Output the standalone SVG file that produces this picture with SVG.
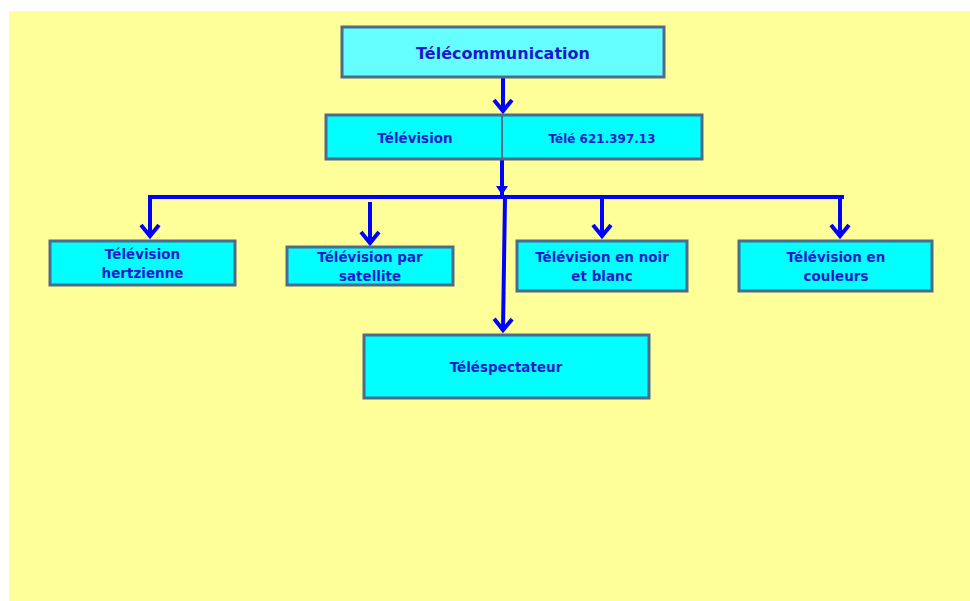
<svg xmlns="http://www.w3.org/2000/svg" width="970" height="601" viewBox="0 0 970 601">
<style>
.box{fill:#00FFFF;stroke:#4E6B8C;stroke-width:3}
.top{fill:#66FFFF}
.t{font-family:"DejaVu Sans",Verdana,sans-serif;font-weight:bold;fill:#1A1ACC;text-anchor:middle;font-size:13.5px}
.c{fill:none;stroke:#0000FF;stroke-width:4}
</style>
<defs>
<marker id="v" markerUnits="userSpaceOnUse" markerWidth="30" markerHeight="30" viewBox="-15 -15 30 30" refX="0" refY="0" orient="auto" overflow="visible">
<path d="M-11,-9 L0,0 L-11,9" fill="none" stroke="#0000FF" stroke-width="4"/>
</marker>
<marker id="tri" markerUnits="userSpaceOnUse" markerWidth="20" markerHeight="20" viewBox="-10 -10 20 20" refX="0" refY="0" orient="auto" overflow="visible">
<path d="M-9,-6 L0,0 L-9,6 Z" fill="#0000FF"/>
</marker>
</defs>
<rect x="9" y="11" width="961" height="590" fill="#FFFF99"/>
<g id="connectors">
<line class="c" x1="503" y1="78" x2="503" y2="111" marker-end="url(#v)"/>
<line class="c" x1="502" y1="160" x2="502" y2="195" marker-end="url(#tri)"/>
<line class="c" x1="148" y1="197" x2="844" y2="197"/>
<line class="c" x1="150" y1="197" x2="150" y2="236" marker-end="url(#v)"/>
<line class="c" x1="370" y1="202" x2="370" y2="243" marker-end="url(#v)"/>
<line class="c" x1="505" y1="197" x2="503" y2="330" marker-end="url(#v)"/>
<line class="c" x1="602" y1="197" x2="602" y2="236" marker-end="url(#v)"/>
<line class="c" x1="840" y1="197" x2="840" y2="236" marker-end="url(#v)"/>
</g>
<g id="telecommunication">
<rect class="box top" x="342" y="27" width="322" height="50"/>
<text class="t" x="503" y="59" style="font-size:16px">Télécommunication</text>
</g>
<g id="television">
<rect class="box" x="326" y="115" width="376" height="44"/>
<line x1="502" y1="115" x2="502" y2="159" stroke="#4E6B8C" stroke-width="2"/>
<text class="t" x="415" y="143">Télévision</text>
<text class="t" x="602" y="143" style="font-size:12px">Télé 621.397.13</text>
</g>
<g id="hertzienne">
<rect class="box" x="50" y="241" width="185" height="44"/>
<text class="t" x="142.5" y="259">Télévision</text>
<text class="t" x="142.5" y="278">hertzienne</text>
</g>
<g id="satellite">
<rect class="box" x="287" y="247" width="166" height="38"/>
<text class="t" x="370" y="262">Télévision par</text>
<text class="t" x="370" y="281">satellite</text>
</g>
<g id="noir-blanc">
<rect class="box" x="517" y="241" width="170" height="50"/>
<text class="t" x="602" y="262">Télévision en noir</text>
<text class="t" x="602" y="281">et blanc</text>
</g>
<g id="couleurs">
<rect class="box" x="739" y="241" width="193" height="50"/>
<text class="t" x="836" y="262">Télévision en</text>
<text class="t" x="836" y="281">couleurs</text>
</g>
<g id="telespectateur">
<rect class="box" x="364" y="335" width="285" height="63"/>
<text class="t" x="506" y="372">Téléspectateur</text>
</g>
</svg>
